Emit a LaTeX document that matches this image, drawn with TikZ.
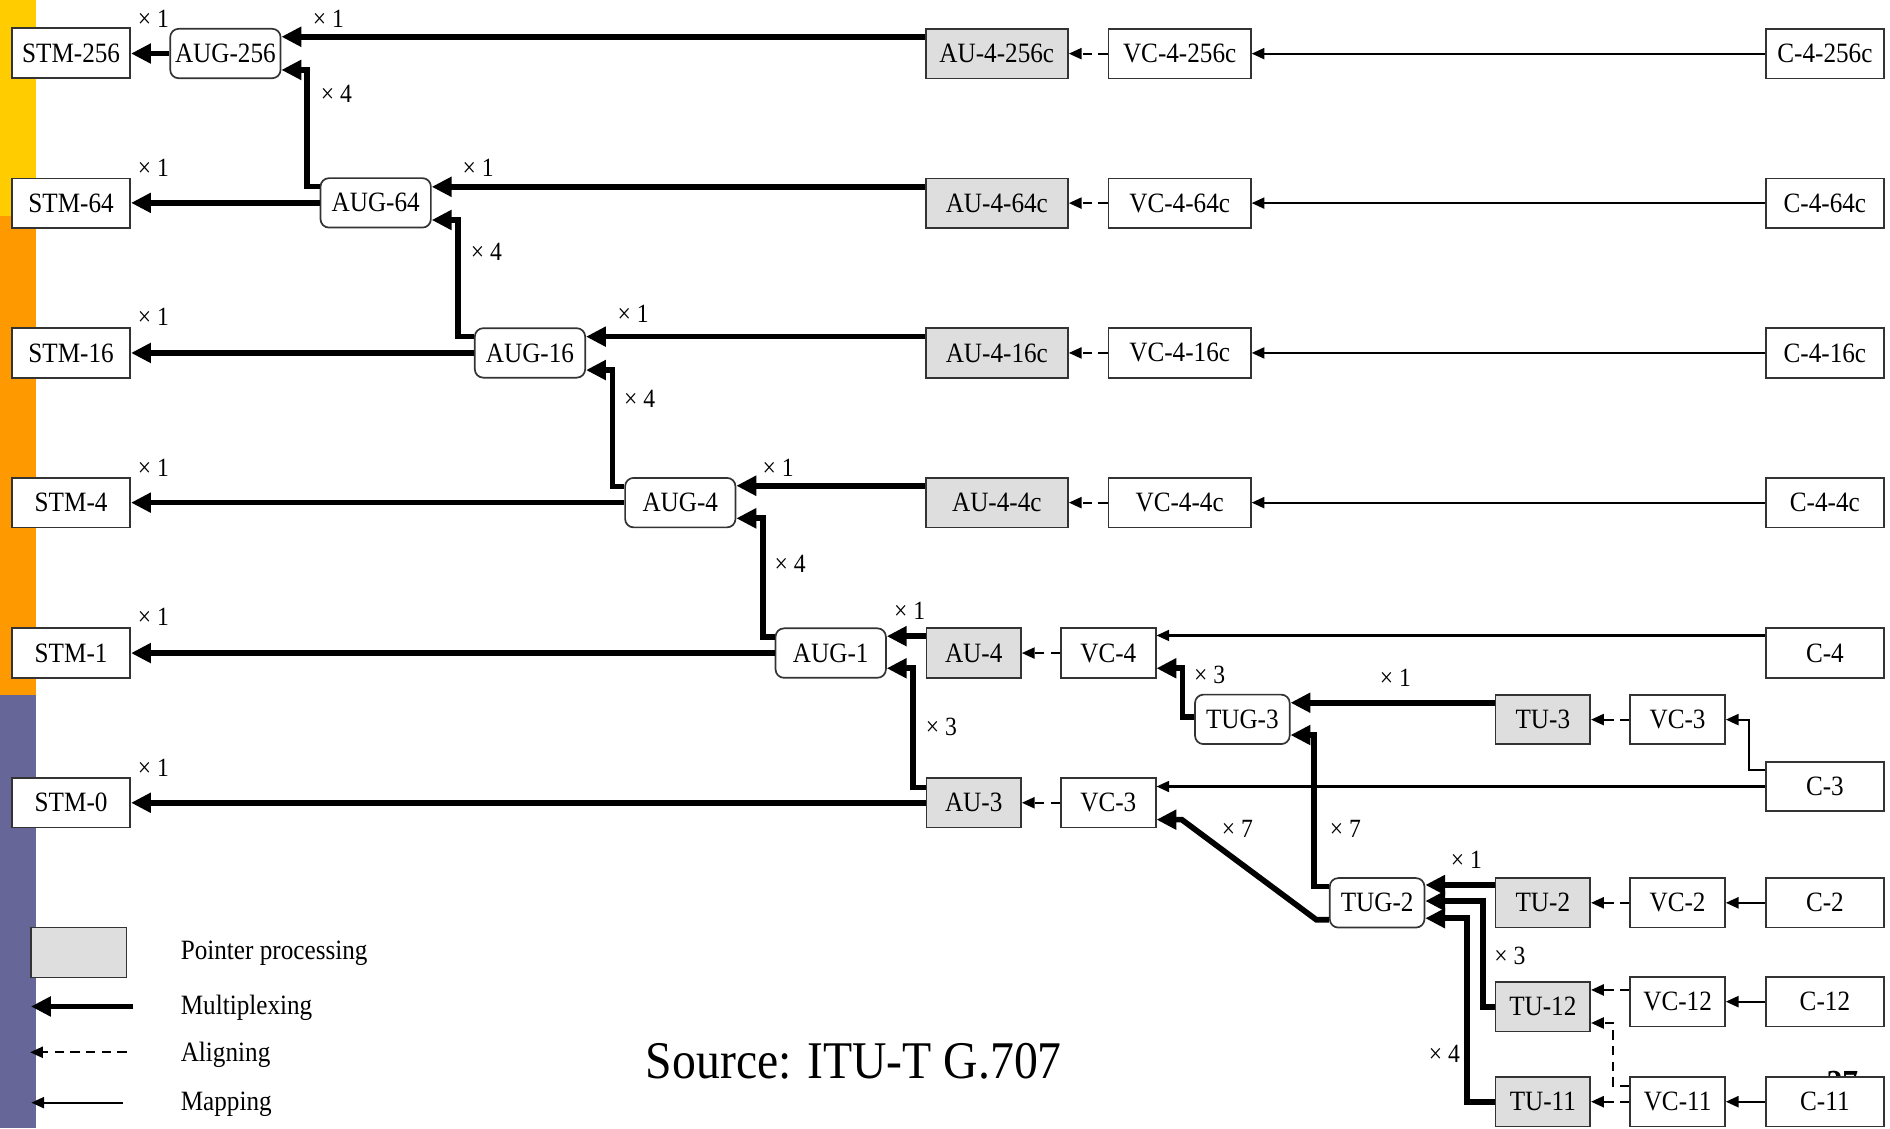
\documentclass[tikz,border=0pt]{standalone}
\usepackage{fontspec}
\setmainfont[FakeStretch=0.9]{Liberation Serif}
\usetikzlibrary{arrows.meta,positioning}

\definecolor{baryellow}{HTML}{FFCC00}
\definecolor{barorange}{HTML}{FF9900}
\definecolor{barpurple}{HTML}{666699}
\definecolor{ptrgrey}{HTML}{DEDEDE}
\definecolor{edgegrey}{HTML}{333333}

\begin{document}
\begin{tikzpicture}[
    x=0.01cm, y=-0.01cm,
    box/.style={draw=edgegrey, line width=0.4pt, fill=white, inner sep=0pt,
    minimum height=4.1mm, font=\fontsize{6.6}{7.5}\selectfont},
    stm/.style={box, minimum width=9.8mm},
    cbox/.style={box, minimum width=9.8mm},
    aug/.style={box, rounded corners=0.7mm, minimum width=9.15mm},
    tug/.style={box, rounded corners=0.7mm, minimum width=7.85mm},
    auc/.style={box, fill=ptrgrey, minimum width=11.8mm},
    vcc/.style={box, minimum width=11.8mm},
    tu/.style={box, fill=ptrgrey, minimum width=7.85mm},
    vc/.style={box, minimum width=7.85mm},
    multiplex/.style={line width=1.34pt, -{Triangle[length=4.7pt,width=4.5pt]}},
    aligning/.style={line width=0.5pt, dash pattern=on 2.2pt off 1.5pt,
    -{Triangle[length=3pt,width=2.6pt]}},
    mapping/.style={line width=0.5pt, -{Triangle[length=3pt,width=2.6pt]}},
    mult/.style={font=\fontsize{6.2}{7}\selectfont, inner sep=0pt, anchor=west},
    legend/.style={font=\fontsize{6.6}{7.5}\selectfont, inner sep=0pt, anchor=base west}
    ]

\useasboundingbox (0,0) rectangle (1568,936);

% side bar
\fill[baryellow] (0,0) rectangle (30,179);
\fill[barorange] (0,179) rectangle (30,577);
\fill[barpurple] (0,577) rectangle (30,936);

% STM-N column
\node[stm] (stm256) at (59,44) {STM-256};
\node[stm] (stm64) at (59,168.5) {STM-64};
\node[stm] (stm16) at (59,292.8) {STM-16};
\node[stm] (stm4) at (59,417) {STM-4};
\node[stm] (stm1) at (59,541.8) {STM-1};
\node[stm] (stm0) at (59,666) {STM-0};

% AUG column
\node[aug] (aug256) at (187,44.4) {AUG-256};
\node[aug] (aug64) at (311.7,168.3) {AUG-64};
\node[aug] (aug16) at (439.7,292.8) {AUG-16};
\node[aug] (aug4) at (564.4,417) {AUG-4};
\node[aug] (aug1) at (689.2,541.8) {AUG-1};

% AU / VC / C, concatenated rows
\node[auc] (au256) at (827,44.5) {AU-4-256c};
\node[vcc] (vc256) at (978.7,44.5) {VC-4-256c};
\node[cbox] (c256) at (1514,44.5) {C-4-256c};

\node[auc] (au64) at (827,168.5) {AU-4-64c};
\node[vcc] (vc64) at (978.7,168.5) {VC-4-64c};
\node[cbox] (c64) at (1514,168.5) {C-4-64c};

\node[auc] (au16) at (827,292.8) {AU-4-16c};
\node[vcc] (vc16) at (978.7,292.8) {VC-4-16c};
\node[cbox] (c16) at (1514,292.8) {C-4-16c};

\node[auc] (au4c) at (827,417) {AU-4-4c};
\node[vcc] (vc4c) at (978.7,417) {VC-4-4c};
\node[cbox] (c4c) at (1514,417) {C-4-4c};

% lower order part
\node[tu] (au4) at (807.8,541.8) {AU-4};
\node[vc] (vc4) at (919.5,541.8) {VC-4};
\node[cbox] (c4) at (1514,541.8) {C-4};

\node[tug] (tug3) at (1030.7,596.8) {TUG-3};
\node[tu] (tu3) at (1280,597) {TU-3};
\node[vc] (vc3r) at (1391.8,597) {VC-3};
\node[cbox] (c3) at (1514,652.5) {C-3};

\node[tu] (au3) at (807.8,666) {AU-3};
\node[vc] (vc3) at (919.5,666) {VC-3};

\node[tug] (tug2) at (1142.5,749) {TUG-2};
\node[tu] (tu2) at (1280,749) {TU-2};
\node[vc] (vc2) at (1391.8,749) {VC-2};
\node[cbox] (c2) at (1514,749) {C-2};

\node[tu] (tu12) at (1280,835.2) {TU-12};
\node[vc] (vc12) at (1391.8,831) {VC-12};
\node[cbox] (c12) at (1514,831) {C-12};

\node[font=\fontsize{8.3}{9}\selectfont\bfseries, inner sep=0pt, anchor=north]
    (pgnum) at (1528.5,888) {27};

\node[tu] (tu11) at (1280,914) {TU-11};
\node[vc] (vc11) at (1391.8,914) {VC-11};
\node[cbox] (c11) at (1514,914) {C-11};

% multiplexing
\draw[multiplex] (aug256.west) -- (aug256.west -| stm256.east);
\draw[multiplex] ([yshift=1.4mm]au256.west) -- ([yshift=1.4mm]au256.west -| aug256.east);
\draw[multiplex] ([yshift=1.35mm]aug64.west) -- ++(-10.5,0) |- ([yshift=-1.36mm]aug256.east);

\draw[multiplex] (aug64.west) -- (aug64.west -| stm64.east);
\draw[multiplex] ([yshift=1.35mm]au64.west) -- ([yshift=1.35mm]au64.west -| aug64.east);
\draw[multiplex] ([yshift=1.35mm]aug16.west) -- ++(-13,0) |- ([yshift=-1.42mm]aug64.east);

\draw[multiplex] (aug16.west) -- (aug16.west -| stm16.east);
\draw[multiplex] ([yshift=1.35mm]au16.west) -- ([yshift=1.35mm]au16.west -| aug16.east);
\draw[multiplex] ([yshift=1.33mm]aug4.west) -- ++(-9.7,0) |- ([yshift=-1.42mm]aug16.east);

\draw[multiplex] (aug4.west) -- (aug4.west -| stm4.east);
\draw[multiplex] ([yshift=1.4mm]au4c.west) -- ([yshift=1.4mm]au4c.west -| aug4.east);
\draw[multiplex] ([yshift=1.36mm]aug1.west) -- ++(-9.7,0) |- ([yshift=-1.3mm]aug4.east);

\draw[multiplex] (aug1.west) -- (aug1.west -| stm1.east);
\draw[multiplex] ([yshift=1.4mm]au4.west) -- ([yshift=1.4mm]au4.west -| aug1.east);
\draw[multiplex] ([yshift=1.26mm]au3.west) -- ++(-10.3,0) |- ([yshift=-1.26mm]aug1.east);
\draw[multiplex] (au3.west) -- (au3.west -| stm0.east);

\draw[multiplex] ([yshift=0.2mm]tug3.west) -- ++(-9.7,0) |- ([yshift=-1.26mm]vc4.east);
\draw[multiplex] ([yshift=1.4mm]tu3.west) -- ([yshift=1.4mm]tu3.west -| tug3.east);
\draw[multiplex] ([yshift=1.34mm]tug2.west) -- ++(-12.5,0) |- ([yshift=-1.3mm]tug3.east);
\draw[multiplex] ([yshift=-1.4mm]tug2.west) -- ++(-10.5,0)
    -- ([xshift=2.1mm,yshift=-1.4mm]vc3.east) -- ([yshift=-1.4mm]vc3.east);

\draw[multiplex] ([yshift=1.48mm]tu2.west) -- ([yshift=1.48mm]tu2.west -| tug2.east);
\draw[multiplex] (tu12.west) -- ++(-9.6,0) |- ([yshift=0.15mm]tug2.east);
\draw[multiplex] (tu11.west) -- ++(-22.7,0) |- ([yshift=-1.28mm]tug2.east);

% aligning
\draw[aligning] (vc256) -- (au256);
\draw[aligning] (vc64) -- (au64);
\draw[aligning] (vc16) -- (au16);
\draw[aligning] (vc4c) -- (au4c);
\draw[aligning] (vc4) -- (au4);
\draw[aligning] (vc3) -- (au3);
\draw[aligning] (vc3r) -- (tu3);
\draw[aligning] (vc2) -- (tu2);
\draw[aligning] ([yshift=0.97mm]vc12.west) -- ([yshift=0.97mm]vc12.west -| tu12.east);
\draw[aligning] ([yshift=1.3mm]vc11.west) -- ++(-13.5,0) |- ([yshift=-1.35mm]tu12.east);
\draw[aligning] (vc11) -- (tu11);

% mapping
\draw[mapping] (c256) -- (vc256);
\draw[mapping] (c64) -- (vc64);
\draw[mapping] (c16) -- (vc16);
\draw[mapping] (c4c) -- (vc4c);
\draw[mapping] ([yshift=1.46mm]c4.west) -- ([yshift=1.46mm]c4.west -| vc4.east);
\draw[mapping] ([yshift=1.37mm]c3.west) -- ++(-13.5,0) |- (vc3r.east);
\draw[mapping] (c3.west) -- (c3.west -| vc3.east);
\draw[mapping] (c2) -- (vc2);
\draw[mapping] (c12) -- (vc12);
\draw[mapping] (c11) -- (vc11);

% multiplicity labels
\node[mult] (n1) at (113.7,16) {× 1};
\node[mult] (n2) at (258.8,16) {× 1};
\node[mult] (n3) at (265.5,78) {× 4};
\node[mult] (n4) at (113.7,139) {× 1};
\node[mult] (n5) at (383,139) {× 1};
\node[mult] (n6) at (390,209) {× 4};
\node[mult] (n7) at (113.7,263) {× 1};
\node[mult] (n8) at (511.6,260) {× 1};
\node[mult] (n9) at (517,331) {× 4};
\node[mult] (n10) at (113.7,388) {× 1};
\node[mult] (n11) at (632,388) {× 1};
\node[mult] (n12) at (642,468) {× 4};
\node[mult] (n13) at (113.7,512) {× 1};
\node[mult] (n14) at (741,507) {× 1};
\node[mult] (n15) at (767.4,603) {× 3};
\node[mult] (n16) at (990,560) {× 3};
\node[mult] (n17) at (1144,562) {× 1};
\node[mult] (n18) at (113.7,637) {× 1};
\node[mult] (n19) at (1013,688) {× 7};
\node[mult] (n20) at (1102.6,688) {× 7};
\node[mult] (n21) at (1203,713) {× 1};
\node[mult] (n22) at (1239,793) {× 3};
\node[mult] (n23) at (1184.7,874) {× 4};

% legend
\node[box, fill=ptrgrey, minimum width=7.93mm, minimum height=4.15mm] (lgbox) at (65.4,790.3) {};
\node[legend] (lgptr) at (149.3,796.4) {Pointer processing};
\coordinate (lgmuxa) at (110.6,835);
\coordinate (lgmuxb) at (25.7,835);
\draw[multiplex] (lgmuxa) -- (lgmuxb);
\node[legend] (lgmux) at (149.3,842) {Multiplexing};
\coordinate (lgalna) at (105,873);
\coordinate (lgalnb) at (25,873);
\draw[aligning] (lgalna) -- (lgalnb);
\node[legend] (lgaln) at (149.3,880.8) {Aligning};
\coordinate (lgmapa) at (101.8,914.8);
\coordinate (lgmapb) at (26,914.8);
\draw[mapping] (lgmapa) -- (lgmapb);
\node[legend] (lgmap) at (149.3,920.9) {Mapping};

\node[font=\fontsize{12.5}{14}\selectfont, inner sep=0pt, anchor=base]
    (src) at (708.4,894.6) {Source: ITU-T G.707};

\end{tikzpicture}
\end{document}
